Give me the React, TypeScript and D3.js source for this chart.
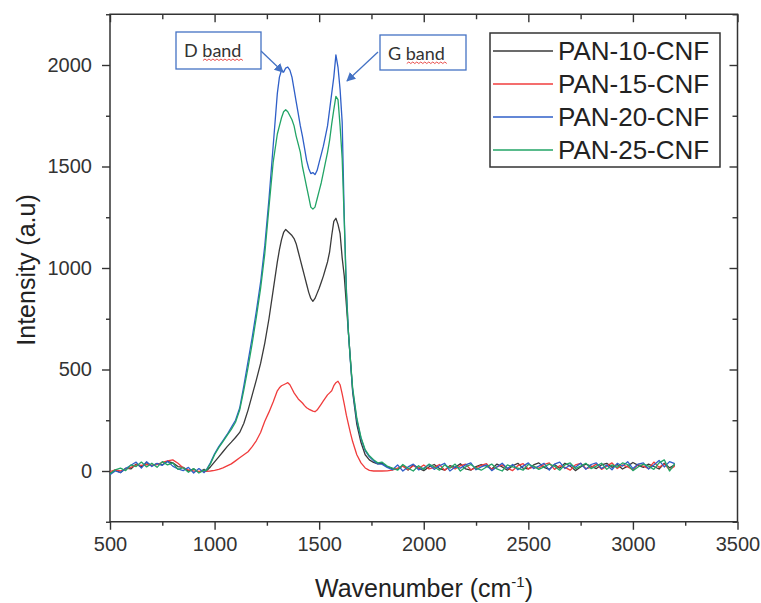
import { useEffect, useRef } from "react";
import * as d3 from "d3";

// Raman spectra (cm-1 vs intensity a.u.)
const wavenumber = [
  500, 525, 550, 575, 600, 625, 650, 675, 700, 725, 750, 775, 800, 825, 850, 875, 900, 925, 950,
  960, 980, 1000, 1020, 1040, 1060, 1080, 1100, 1120, 1140, 1160, 1180, 1200, 1220, 1240, 1260, 1280, 1300,
  1310, 1320, 1330, 1340, 1350, 1360, 1370, 1380, 1390, 1400, 1410, 1420, 1430, 1440, 1450, 1460, 1470,
  1480, 1490, 1500, 1510, 1520, 1530, 1540, 1550, 1560, 1570, 1580, 1590, 1600, 1610, 1620, 1630, 1640, 1650,
  1660, 1680, 1700, 1720, 1740, 1760, 1780,
  1800, 1825, 1850, 1875, 1900, 1925, 1950, 1975, 2000, 2025,
  2050, 2075, 2100, 2125, 2150, 2175, 2200, 2225, 2250, 2275,
  2300, 2325, 2350, 2375, 2400, 2425, 2450, 2475, 2500, 2525,
  2550, 2575, 2600, 2625, 2650, 2675, 2700, 2725, 2750, 2775,
  2800, 2825, 2850, 2875, 2900, 2925, 2950, 2975, 3000, 3025,
  3050, 3075, 3100, 3125, 3150, 3175, 3200,
];

const pan10 = [
  -12, 5, -8, 14, 10, 34, 20, 42, 26, 36, 30, 48, 40, 22, 18, 0, 10, -6, 8,
  0, 20, 45, 70, 95, 120, 142, 165, 190, 235, 300, 375, 450, 530, 630, 750, 890, 1030,
  1090, 1140, 1175, 1190, 1180, 1170, 1160, 1145, 1120, 1080, 1040, 1000, 960, 920, 880, 850, 836,
  850, 875, 900, 930, 960, 995, 1030, 1080, 1160, 1230, 1245, 1215, 1170, 1050, 960, 820, 680, 540,
  390, 230, 140, 80, 55, 42, 35,
  38, 22, 12, 8, 26, 5, 30, 14, 2, 20,
  32, 12, 4, 26, 18, 36, 10, 4, 22, 32,
  24, 10, 34, 20, 4, 26, 38, 14, 10, 30,
  40, 18, 8, 32, 14, 38, 24, 2, 20, 34,
  24, 12, 30, 38, 18, 32, 10, 24, 42, 28,
  18, 34, 22, 10, 38, 16, 30,
];

const pan15 = [
  -3, 5, 0, 10, 18, 30, 28, 32, 28, 32, 42, 50, 55, 38, 15, 5, 0, -2, 0,
  -2, 0, 3, 8, 15, 25, 35, 50, 65, 80, 95, 120, 150, 190, 245, 290, 340, 395,
  410, 420, 425, 430, 435, 425, 405, 385, 370, 355, 345, 335, 322, 312, 305, 300, 295,
  292, 300, 315, 330, 345, 360, 375, 385, 395, 420, 435, 442, 425, 380, 330, 275, 230, 185,
  145, 80, 40, 15, 3, 0, 0,
  0, 1, 4, 14, 24, 6, 26, 12, 30, 10,
  18, 32, 4, 22, 10, 26, 34, 6, 16, 28,
  36, 8, 20, 30, 14, 2, 26, 36, 10, 20,
  14, 32, 40, 8, 26, 18, 4, 30, 38, 12,
  18, 34, 8, 24, 40, 12, 30, 20, 6, 32,
  24, 12, 44, 18, 34, 6, 24,
];

const pan20 = [
  -18, 0, -8, 12, 28, 44, 14, 46, 22, 38, 28, 48, 24, 10, 2, 18, -10, 12, -8,
  5, 40, 85, 120, 150, 180, 215, 250, 310, 420, 540, 660, 790, 930, 1110, 1340, 1600, 1860,
  1940, 1975, 1965, 1985, 1990, 1975, 1940, 1880, 1820, 1760, 1700, 1650, 1590, 1530, 1490, 1465, 1470,
  1460, 1480, 1520, 1560, 1600, 1650, 1700, 1780, 1860, 1940, 2050, 1990, 1880, 1720, 1250, 900, 680, 530,
  400, 250, 160, 100, 70, 50, 35,
  34, 18, 6, 30, 0, 20, 34, 6, 14, 32,
  8, 26, 38, 0, 20, 14, 30, 40, 6, 20,
  30, 2, 20, 38, 12, 32, 6, 24, 40, 12,
  24, 38, 4, 34, 44, 12, 30, 18, 38, 8,
  32, 40, 12, 30, 6, 38, 24, 46, 12, 34,
  40, 10, 30, 52, 20, 46, 36,
];

const pan25 = [
  -14, 6, 14, 2, 30, 22, 44, 20, 38, 18, 46, 30, 40, 8, 16, -6, 12, -10, 4,
  2, 35, 80, 115, 145, 175, 205, 240, 300, 400, 510, 630, 760, 900, 1070, 1300, 1520, 1660,
  1700, 1740, 1770, 1780, 1770, 1750, 1730, 1700, 1650, 1610, 1570, 1500, 1450, 1400, 1350, 1300, 1290,
  1300, 1340, 1380, 1420, 1470, 1520, 1570, 1630, 1710, 1780, 1845, 1830, 1700, 1540, 1230, 880, 680, 540,
  410, 260, 165, 105, 75, 55, 40,
  44, 24, 14, 4, 32, 14, 0, 26, 8, 34,
  20, 4, 30, 14, 34, 0, 20, 32, 14, 4,
  20, 34, 10, 0, 30, 20, 14, 4, 32, 24,
  8, 20, 34, 24, 4, 30, 40, 12, 24, 38,
  12, 24, 38, 8, 30, 18, 40, 32, 2, 20,
  34, 24, 8, 40, 55, 0, 36,
];

const seriesNames = ["PAN-10-CNF", "PAN-15-CNF", "PAN-20-CNF", "PAN-25-CNF"];
const seriesValues = [pan10, pan15, pan20, pan25];
const seriesColors = ["#3a3a3a", "#f03c3c", "#2f5fc8", "#22a466"];

const xTicks = [500, 1000, 1500, 2000, 2500, 3000, 3500];
const xMinor = [750, 1250, 1750, 2250, 2750, 3250];
const yTicks = [0, 500, 1000, 1500, 2000];
const yMinor = [-250, 250, 750, 1250, 1750, 2250];

const bandLabels = ["D band", "G band"];

export default function App() {
  const ref = useRef<SVGSVGElement>(null);

  useEffect(() => {
    const svg = d3.select(ref.current);
    svg.selectAll("*").remove();

    const left = 110, right = 737.5, top = 14.25, bottom = 521.75;
    const font = "'Liberation Sans', Arial, sans-serif";
    const axisColor = "#333";

    const x = d3.scaleLinear().domain([500, 3500]).range([left, right]);
    const y = d3.scaleLinear().domain([-250, 2250]).range([bottom, top]);

    // arrowhead for the band callouts
    svg.append("defs")
      .append("marker")
      .attr("id", "arrow")
      .attr("viewBox", "0 0 10 10")
      .attr("refX", 9)
      .attr("refY", 5)
      .attr("markerWidth", 7)
      .attr("markerHeight", 7)
      .attr("orient", "auto")
      .append("path")
      .attr("d", "M0,0 L10,5 L0,10 z")
      .attr("fill", "#4472c4");

    /* ---------- AXES ---------- */
    const styleAxis = (g: any) => {
      g.select(".domain").remove();
      g.selectAll("line").attr("stroke", axisColor).attr("stroke-width", 1.4);
      g.selectAll("text")
        .attr("fill", "#333")
        .attr("font-size", 20)
        .attr("font-family", font);
    };

    svg.append("g")
      .attr("transform", `translate(0,${bottom})`)
      .call(d3.axisBottom(x).tickValues(xTicks).tickSize(8).tickPadding(7).tickFormat(d3.format("d")))
      .call(styleAxis);
    svg.append("g")
      .attr("transform", `translate(0,${bottom})`)
      .call(d3.axisBottom(x).tickValues(xMinor.filter(v => v < 3500)).tickSize(4).tickFormat(() => ""))
      .call(styleAxis);

    svg.append("g")
      .attr("transform", `translate(${left},0)`)
      .call(d3.axisLeft(y).tickValues(yTicks).tickSize(8).tickPadding(10).tickFormat(d3.format("d")))
      .call(styleAxis);
    svg.append("g")
      .attr("transform", `translate(${left},0)`)
      .call(d3.axisLeft(y).tickValues(yMinor).tickSize(4).tickFormat(() => ""))
      .call(styleAxis);

    // mirrored inward ticks on top / right
    svg.append("g")
      .attr("transform", `translate(0,${top})`)
      .call(d3.axisTop(x).tickValues(xTicks).tickSize(-8).tickFormat(() => ""))
      .call(styleAxis);
    svg.append("g")
      .attr("transform", `translate(0,${top})`)
      .call(d3.axisTop(x).tickValues(xMinor.filter(v => v < 3500)).tickSize(-5).tickFormat(() => ""))
      .call(styleAxis);
    svg.append("g")
      .attr("transform", `translate(${right},0)`)
      .call(d3.axisRight(y).tickValues(yTicks).tickSize(-8).tickFormat(() => ""))
      .call(styleAxis);
    svg.append("g")
      .attr("transform", `translate(${right},0)`)
      .call(d3.axisRight(y).tickValues(yMinor).tickSize(-5).tickFormat(() => ""))
      .call(styleAxis);

    svg.append("rect")
      .attr("x", left)
      .attr("y", top)
      .attr("width", right - left)
      .attr("height", bottom - top)
      .attr("fill", "none")
      .attr("stroke", axisColor)
      .attr("stroke-width", 1.5);

    // axis titles
    const xt = svg.append("text")
      .attr("x", 424)
      .attr("y", 597)
      .attr("text-anchor", "middle")
      .attr("font-size", 25)
      .attr("font-family", font)
      .attr("fill", "#222");
    xt.append("tspan").text("Wavenumber (cm");
    xt.append("tspan").attr("font-size", 15).attr("dy", -10).text("-1");
    xt.append("tspan").attr("dy", 10).text(")");

    svg.append("text")
      .attr("transform", "translate(35,270) rotate(-90)")
      .attr("text-anchor", "middle")
      .attr("font-size", 25)
      .attr("font-family", font)
      .attr("fill", "#222")
      .text("Intensity (a.u)");

    /* ---------- SPECTRA ---------- */
    const line = d3.line<number>()
      .x((_, i) => x(wavenumber[i]))
      .y(d => y(d));

    seriesValues.forEach((vals, k) => {
      svg.append("path")
        .datum(vals)
        .attr("fill", "none")
        .attr("stroke", seriesColors[k])
        .attr("stroke-width", 1.3)
        .attr("stroke-linejoin", "round")
        .attr("d", line);
    });

    /* ---------- LEGEND ---------- */
    const lg = svg.append("g");
    lg.append("rect")
      .attr("x", 490)
      .attr("y", 33)
      .attr("width", 230)
      .attr("height", 134)
      .attr("fill", "#fff")
      .attr("stroke", axisColor)
      .attr("stroke-width", 1.5);
    seriesNames.forEach((name, i) => {
      const ly = 51 + i * 33;
      lg.append("line")
        .attr("x1", 493).attr("x2", 553)
        .attr("y1", ly).attr("y2", ly)
        .attr("stroke", seriesColors[i])
        .attr("stroke-width", 1.6);
      lg.append("text")
        .attr("x", 558)
        .attr("y", ly + 9)
        .attr("font-size", 26)
        .attr("font-family", font)
        .attr("fill", "#222")
        .text(name);
    });

    /* ---------- BAND CALLOUTS ---------- */
    const boxes = [
      { x: 176, y: 32, w: 85, h: 37, from: [261, 51], to: [283, 72] },
      { x: 380, y: 35, w: 86, h: 35, from: [378, 52], to: [347, 81] },
    ];
    boxes.forEach((b, i) => {
      svg.append("line")
        .attr("x1", b.from[0]).attr("y1", b.from[1])
        .attr("x2", b.to[0]).attr("y2", b.to[1])
        .attr("stroke", "#4472c4")
        .attr("stroke-width", 1.3)
        .attr("marker-end", "url(#arrow)");
      svg.append("rect")
        .attr("x", b.x).attr("y", b.y)
        .attr("width", b.w).attr("height", b.h)
        .attr("fill", "#fff")
        .attr("stroke", "#4472c4")
        .attr("stroke-width", 1.3);
      const t = svg.append("text")
        .attr("x", b.x + 8)
        .attr("y", b.y + 25)
        .attr("font-size", 18)
        .attr("font-family", "Lato, 'Open Sans', sans-serif")
        .attr("fill", "#333")
        .text(bandLabels[i]);
      // spell-check squiggle under "band"
      const tw = (t.node() as SVGTextElement).getComputedTextLength();
      const sx0 = b.x + 8 + tw * 0.33;
      const sx1 = b.x + 8 + tw;
      const sy = b.y + 28.5;
      let d = `M${sx0},${sy}`;
      for (let sx = sx0, up = true; sx < sx1; sx += 2, up = !up) {
        d += ` L${sx + 2},${up ? sy - 1.5 : sy}`;
      }
      svg.append("path")
        .attr("d", d)
        .attr("fill", "none")
        .attr("stroke", "#e53935")
        .attr("stroke-width", 0.9);
    });
  }, []);

  return (
    <svg
      ref={ref}
      width={761}
      height={603}
      style={{ position: "absolute", left: 0, top: 0, background: "#fff" }}
    />
  );
}
